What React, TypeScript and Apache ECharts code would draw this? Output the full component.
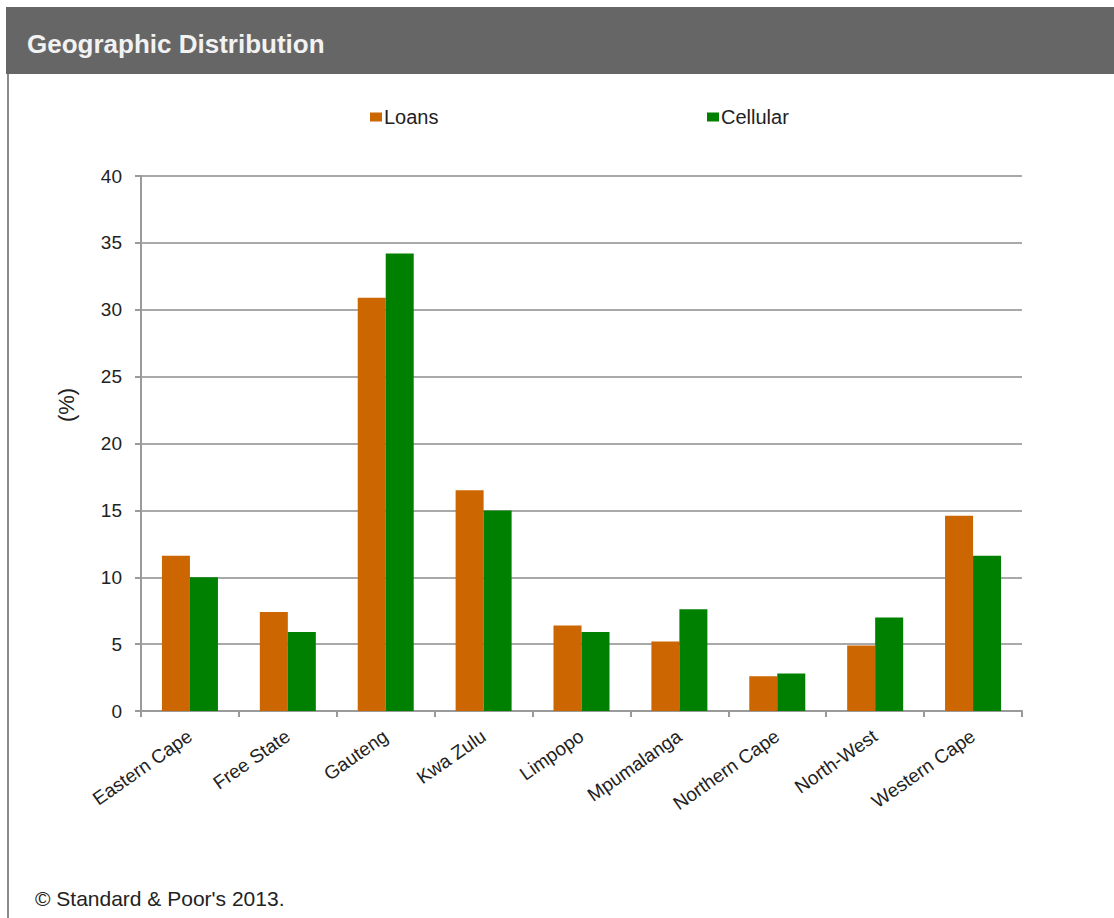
import React, { useEffect, useRef } from "react";
import * as echarts from "echarts";

const categories = [
  "Eastern Cape",
  "Free State",
  "Gauteng",
  "Kwa Zulu",
  "Limpopo",
  "Mpumalanga",
  "Northern Cape",
  "North-West",
  "Western Cape",
];
const loans = [11.6, 7.4, 30.9, 16.5, 6.4, 5.2, 2.6, 4.9, 14.6];
const cellular = [10.0, 5.9, 34.2, 15.0, 5.9, 7.6, 2.8, 7.0, 11.6];
const yTicks = { min: 0, max: 40, interval: 5 };
const title = "Geographic Distribution";
const footer = "© Standard & Poor's 2013.";
const yAxisName = "(%)";

const FONT = "'Liberation Sans', Arial, sans-serif";

export default function App() {
  const ref = useRef<HTMLDivElement>(null);
  useEffect(() => {
    if (!ref.current) return;
    const chart = echarts.init(ref.current, undefined, { renderer: "svg" });
    chart.setOption({
      animation: false,
      backgroundColor: "#ffffff",
      textStyle: { fontFamily: FONT },
      graphic: [
        {
          type: "rect",
          shape: { x: 6, y: 7, width: 1108, height: 67 },
          style: { fill: "#666666" },
          silent: true,
        },
        {
          type: "rect",
          shape: { x: 7, y: 74, width: 2, height: 844 },
          style: { fill: "#8a8a8a" },
          silent: true,
        },
        {
          type: "text",
          x: 27,
          y: 44,
          style: {
            text: title,
            fill: "#f2f2f2",
            font: `bold 26px ${FONT}`,
            verticalAlign: "middle",
          },
        },
        {
          type: "text",
          x: 35,
          y: 898,
          style: {
            text: footer,
            fill: "#222222",
            font: `21px ${FONT}`,
            verticalAlign: "middle",
          },
        },
        {
          type: "text",
          x: 66,
          y: 405,
          rotation: Math.PI / 2,
          style: {
            text: yAxisName,
            fill: "#222222",
            font: `22px ${FONT}`,
            align: "center",
            verticalAlign: "middle",
          },
        },
      ],
      legend: [
        {
          data: ["Loans"],
          left: 365,
          top: 102,
          icon: "rect",
          itemWidth: 12,
          itemHeight: 9,
          itemGap: 4,
          textStyle: { fontSize: 20, color: "#222222", fontFamily: FONT, padding: [0, 0, 0, -3] },
        },
        {
          data: ["Cellular"],
          left: 702,
          top: 102,
          icon: "rect",
          itemWidth: 12,
          itemHeight: 9,
          textStyle: { fontSize: 20, color: "#222222", fontFamily: FONT, padding: [0, 0, 0, -3] },
        },
      ],
      grid: { left: 141, right: 92, top: 176, bottom: 207, containLabel: false },
      xAxis: {
        type: "category",
        data: categories,
        boundaryGap: true,
        axisLine: { show: true, lineStyle: { color: "#9a9a9a", width: 2 } },
        axisTick: { show: true, length: 6, interval: 0, lineStyle: { color: "#9a9a9a", width: 2 } },
        axisLabel: {
          interval: 0,
          rotate: 35,
          fontSize: 19,
          color: "#222222",
          fontFamily: FONT,
          margin: 23,
        },
      },
      yAxis: {
        type: "value",
        min: yTicks.min,
        max: yTicks.max,
        interval: yTicks.interval,
        axisLine: { show: true, lineStyle: { color: "#9a9a9a", width: 2 } },
        axisTick: { show: true, length: 6, lineStyle: { color: "#9a9a9a", width: 2 } },
        axisLabel: { fontSize: 19, color: "#222222", fontFamily: FONT, margin: 19 },
        splitLine: { show: true, lineStyle: { color: "#8c8c8c", width: 1.5 } },
      },
      series: [
        {
          name: "Loans",
          type: "bar",
          data: loans,
          barWidth: 28,
          barGap: "0%",
          itemStyle: { color: "#CC6600" },
        },
        {
          name: "Cellular",
          type: "bar",
          data: cellular,
          barWidth: 28,
          barGap: "0%",
          itemStyle: { color: "#008000" },
        },
      ],
    });
    return () => chart.dispose();
  }, []);
  return (
    <div
      ref={ref}
      style={{ position: "fixed", left: 0, top: 0, width: 1114, height: 918 }}
    />
  );
}
